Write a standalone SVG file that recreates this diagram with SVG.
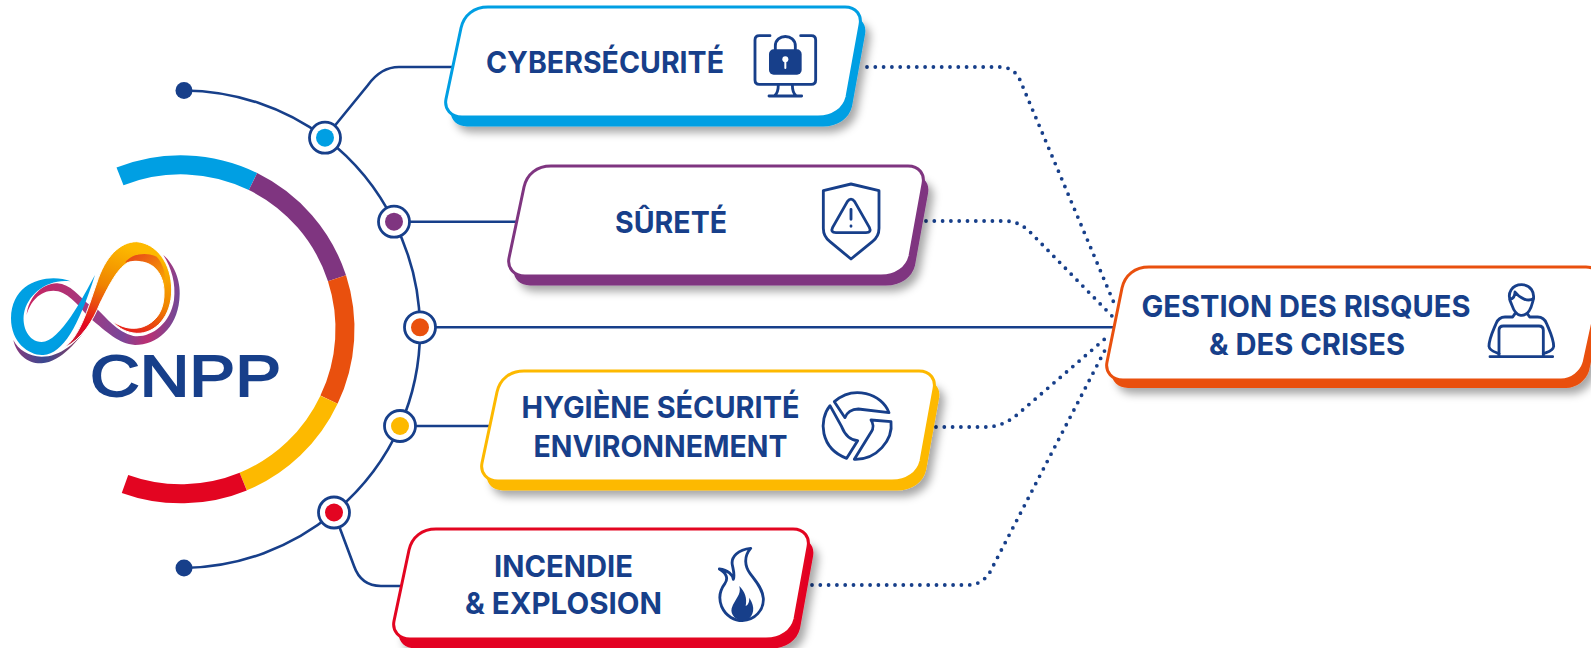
<svg xmlns="http://www.w3.org/2000/svg" width="1591" height="648" viewBox="0 0 1591 648">
<style>
.t{font-family:Inter,"Liberation Sans",sans-serif;font-weight:700;font-size:29.5px;fill:#173f8a;text-anchor:middle}
.line{fill:none;stroke:#173f8a;stroke-width:2.6}
.dot{fill:none;stroke:#173f8a;stroke-width:3.8;stroke-linecap:round;stroke-dasharray:0 8.3}
.seg{fill:none;stroke-width:19}
.ring{fill:#fff;stroke:#173f8a;stroke-width:2.8}
.ic{fill:none;stroke:#173f8a;stroke-width:8.5;stroke-linecap:round;stroke-linejoin:round}
.icf{fill:#173f8a}
</style>
<defs>
<filter id="sh" x="-10%" y="-20%" width="125%" height="150%"><feDropShadow dx="5" dy="6" stdDeviation="4.5" flood-color="#000" flood-opacity=".35"/></filter>
<path id="c414" d="M15 21C18 8 28 0 42 0H399C410 0 416 8 414 18L401 90C398 102 387 110 372 110H16C5 110-2 102 0 92Z"/>
<path id="c452" d="M15 21C18 8 28 0 42 0H437C448 0 454 8 452 18L439 90C436 102 425 110 410 110H16C5 110-2 102 0 92Z"/>
<path id="c494" d="M15 21C18 8 28 0 42 0H479C490 0 496 8 494 18L477 96C474 105 465 113 454 113H16C5 113-2 105 0 95Z"/>
<linearGradient id="gBlue" x1="0" y1="0" x2="1" y2="1"><stop offset="0" stop-color="#00a0e3"/><stop offset=".7" stop-color="#009fe3"/><stop offset="1" stop-color="#1070b8"/></linearGradient>
<linearGradient id="gBand" gradientUnits="userSpaceOnUse" x1="80" y1="450" x2="540" y2="520"><stop offset="0" stop-color="#c9225f"/><stop offset=".4" stop-color="#a23a80"/><stop offset=".65" stop-color="#7a4699"/><stop offset=".82" stop-color="#bb2f72"/><stop offset="1" stop-color="#6a4c9c"/></linearGradient>
<linearGradient id="gEdge" x1="0" y1="0" x2="1" y2="0"><stop offset="0" stop-color="#8a3a7d"/><stop offset=".4" stop-color="#3a4890"/><stop offset="1" stop-color="#a83a50"/></linearGradient>
<linearGradient id="gOr" gradientUnits="userSpaceOnUse" x1="340" y1="305" x2="230" y2="620"><stop offset="0" stop-color="#fdb900"/><stop offset=".4" stop-color="#ef8300"/><stop offset=".8" stop-color="#e30521"/><stop offset="1" stop-color="#c2203a"/></linearGradient>
<linearGradient id="gIn" x1="0" y1="0" x2="1" y2="1"><stop offset="0" stop-color="#e53f1a"/><stop offset="1" stop-color="#fbb000"/></linearGradient>
</defs>

<g id="logo">
<g transform="translate(0 140) scale(.33333)">
<path fill="url(#gEdge)" d="M40 600C50 645 85 672 125 670C185 665 235 600 272 548C230 610 180 650 125 650C85 648 55 630 40 600Z"/>
<path fill="url(#gBand)" d="M80 525C85 470 130 428 172 430C210 432 240 470 262 490L292 508C320 535 350 575 400 588C450 595 510 555 522 480C528 430 515 385 490 345C525 375 545 430 538 480C530 565 470 615 405 615C355 612 320 575 270 535C230 490 200 452 160 452C120 452 90 485 80 525Z"/>
<path fill="url(#gBlue)" d="M212 424C150 400 35 420 33 535C33 610 90 648 130 645C190 640 235 560 285 405C250 470 180 606 125 606C85 606 65 560 72 520C82 465 140 415 212 424Z"/>
<path fill="url(#gOr)" stroke="#fff" stroke-width="3" d="M190 625C240 590 262 510 290 430C315 350 360 305 410 305C470 310 515 370 515 450C515 530 465 582 410 580C380 578 355 565 340 545C370 565 400 570 430 560C470 545 495 510 492 450C490 410 470 360 400 362C360 368 330 430 300 490C280 540 245 600 190 625Z"/>
<path fill="url(#gIn)" d="M375 368C395 340 440 335 470 350C490 370 500 410 495 445C490 405 465 360 405 362C395 362 385 364 375 368Z"/>
</g>
<text x="90" y="395.5" textLength="191" lengthAdjust="spacingAndGlyphs" style="font-family:'Liberation Sans',sans-serif;font-weight:400;font-size:57px;fill:#173f8a;stroke:#173f8a;stroke-width:1.8">CNPP</text>
</g>

<g id="arc">
<path class="seg" stroke="#009fe3" d="M120 176.4A164.5 164.5 0 0 1 253 181.5"/>
<path class="seg" stroke="#7f3580" d="M253 181.5A164.5 164.5 0 0 1 337 278.3"/>
<path class="seg" stroke="#e9500e" d="M337 278.3A164.5 164.5 0 0 1 329 399.7"/>
<path class="seg" stroke="#fdb900" d="M329 399.7A164.5 164.5 0 0 1 243.2 481.6"/>
<path class="seg" stroke="#e30521" d="M243.2 481.6A164.5 164.5 0 0 1 125 484"/>
</g>

<g id="connectors">
<path class="line" d="M184 90.5A239 239 0 0 1 325 137.7A239 239 0 0 1 394 221.7A239 239 0 0 1 420 327.3A239 239 0 0 1 400 426A239 239 0 0 1 334 512.5A239 239 0 0 1 184 568"/>
<path class="line" d="M325 137.7L368 85Q381 67 399 67H452"/>
<path class="line" d="M394 221.7H520"/>
<path class="line" d="M420 327.3H1115"/>
<path class="line" d="M400 426H492"/>
<path class="line" d="M334 512.5L354 566Q361 586 381 586H402"/>
<circle cx="184" cy="90.5" r="8.5" class="icf"/>
<circle cx="184" cy="568" r="8.5" class="icf"/>
<path class="dot" d="M867 67H1000Q1014 67 1020 80L1114 303"/>
<path class="dot" d="M926 221H1005Q1020 221 1032 234L1112 316"/>
<path class="dot" d="M936 427H985Q1003 427 1018 414L1107 337"/>
<path class="dot" d="M812 585H968Q982 585 990 572L1105 350"/>
</g>

<g id="n1"><circle class="ring" cx="325" cy="137.7" r="15.5"/><circle cx="325" cy="137.7" r="9" fill="#009fe3"/></g>
<g id="n2"><circle class="ring" cx="394" cy="221.7" r="15.5"/><circle cx="394" cy="221.7" r="9" fill="#7f3580"/></g>
<g id="n3"><circle class="ring" cx="420" cy="327.3" r="15.5"/><circle cx="420" cy="327.3" r="9" fill="#e9500e"/></g>
<g id="n4"><circle class="ring" cx="400" cy="426" r="15.5"/><circle cx="400" cy="426" r="9" fill="#fdb900"/></g>
<g id="n5"><circle class="ring" cx="334" cy="512.5" r="15.5"/><circle cx="334" cy="512.5" r="9" fill="#e30521"/></g>

<g id="cybersecurite">
<use href="#c414" transform="translate(451 16.5)" fill="#009fe3" filter="url(#sh)"/>
<use href="#c414" transform="translate(446 7)" fill="#fff" stroke="#009fe3" stroke-width="3"/>
<text class="t" x="605" y="73" textLength="238" lengthAdjust="spacingAndGlyphs">CYBERSÉCURITÉ</text>
<g transform="translate(420 0) scale(.33333)">
<path class="ic" d="M1050 107H1018Q1005 107 1005 120V240Q1005 253 1018 253H1174Q1187 253 1187 240V120Q1187 107 1174 107H1142"/>
<path class="ic" d="M1075 253Q1075 280 1063 288M1117 253Q1117 280 1129 288M1047 288H1145"/>
<path class="ic" d="M1066 152V138C1066 100 1126 100 1126 138V152"/>
<rect class="icf" x="1047" y="148" width="98" height="76" rx="14"/>
<circle cx="1096" cy="178" r="9" fill="#fff"/><path d="M1096 180V204" stroke="#fff" stroke-width="6" stroke-linecap="round"/>
</g>
</g>

<g id="surete">
<use href="#c414" transform="translate(514 175.5)" fill="#7f3580" filter="url(#sh)"/>
<use href="#c414" transform="translate(509 166)" fill="#fff" stroke="#7f3580" stroke-width="3"/>
<text class="t" x="671" y="232.5" textLength="112" lengthAdjust="spacingAndGlyphs">SÛRETÉ</text>
<g transform="translate(780 160) scale(.33333)">
<path class="ic" d="M213 72L130 92V205Q130 230 150 245L213 297L277 245Q297 230 297 205V92Z"/>
<path class="ic" d="M202 125Q213 110 224 125L268 202Q276 218 258 218H168Q150 218 158 202Z"/>
<path class="ic" d="M213 148V178M213 198V199"/>
</g>
</g>

<g id="hygiene">
<use href="#c452" transform="translate(487 380.5)" fill="#fdb900" filter="url(#sh)"/>
<use href="#c452" transform="translate(482 371)" fill="#fff" stroke="#fdb900" stroke-width="3"/>
<text class="t" x="660.5" y="417.5" textLength="278" lengthAdjust="spacingAndGlyphs">HYGIÈNE SÉCURITÉ</text>
<text class="t" x="660.5" y="457" textLength="254" lengthAdjust="spacingAndGlyphs">ENVIRONNEMENT</text>
<g transform="translate(790 370) scale(.33333)">
<path class="ic" d="M133 95C190 45 275 70 297 128L205 117C185 117 170 128 165 143Z"/>
<path class="ic" d="M120 107C85 150 90 235 170 265L203 212C180 210 165 195 155 170Z"/>
<path class="ic" d="M243 150L303 155C310 210 260 270 193 268L243 187C252 175 250 160 243 150Z"/>
</g>
</g>

<g id="incendie">
<use href="#c414" transform="translate(399 538.5)" fill="#e30521" filter="url(#sh)"/>
<use href="#c414" transform="translate(394 529)" fill="#fff" stroke="#e30521" stroke-width="3"/>
<text class="t" x="563.5" y="577" textLength="139" lengthAdjust="spacingAndGlyphs">INCENDIE</text>
<text class="t" x="563.5" y="613.5" textLength="197" lengthAdjust="spacingAndGlyphs">&amp; EXPLOSION</text>
<g transform="translate(680 520) scale(.33333)">
<path class="ic" d="M212 85C175 88 152 110 157 135C160 150 165 165 160 178C158 165 145 150 118 147C140 160 145 175 135 190C120 210 115 235 125 260C138 290 165 302 187 302C225 300 252 270 250 235C248 205 225 180 210 160C195 140 190 110 212 85Z"/>
<path class="icf" d="M178 198C185 225 165 235 155 265C150 285 170 302 187 302C210 302 225 280 218 255C215 245 212 240 208 233C208 245 205 255 197 258C202 235 195 215 178 198Z"/>
</g>
</g>

<g id="gestion">
<use href="#c494" transform="translate(1112 275)" fill="#e9500e" filter="url(#sh)"/>
<use href="#c494" transform="translate(1107 267)" fill="#fff" stroke="#e9500e" stroke-width="3"/>
<text class="t" x="1306" y="316.5" textLength="329" lengthAdjust="spacingAndGlyphs">GESTION DES RISQUES</text>
<text class="t" x="1307" y="355" textLength="196" lengthAdjust="spacingAndGlyphs">&amp; DES CRISES</text>
<g transform="translate(1080 252) scale(.33333)">
<path class="ic" d="M1296 160C1275 120 1300 98 1325 98C1350 98 1368 120 1358 150C1352 175 1340 192 1322 190C1308 188 1300 172 1296 160Z"/>
<path class="ic" d="M1290 142C1300 140 1305 130 1305 120C1320 140 1345 150 1360 140"/>
<path class="ic" d="M1305 185L1298 195H1275C1260 195 1252 205 1248 215C1240 235 1227 260 1227 283C1229 298 1248 300 1257 305M1342 185L1349 195H1373C1388 195 1396 205 1400 215C1408 235 1421 260 1421 283C1419 298 1400 300 1390 305"/>
<path class="ic" d="M1257 312V235Q1257 222 1270 222H1377Q1390 222 1390 235V312M1230 314H1418"/>
</g>
</g>
</svg>
